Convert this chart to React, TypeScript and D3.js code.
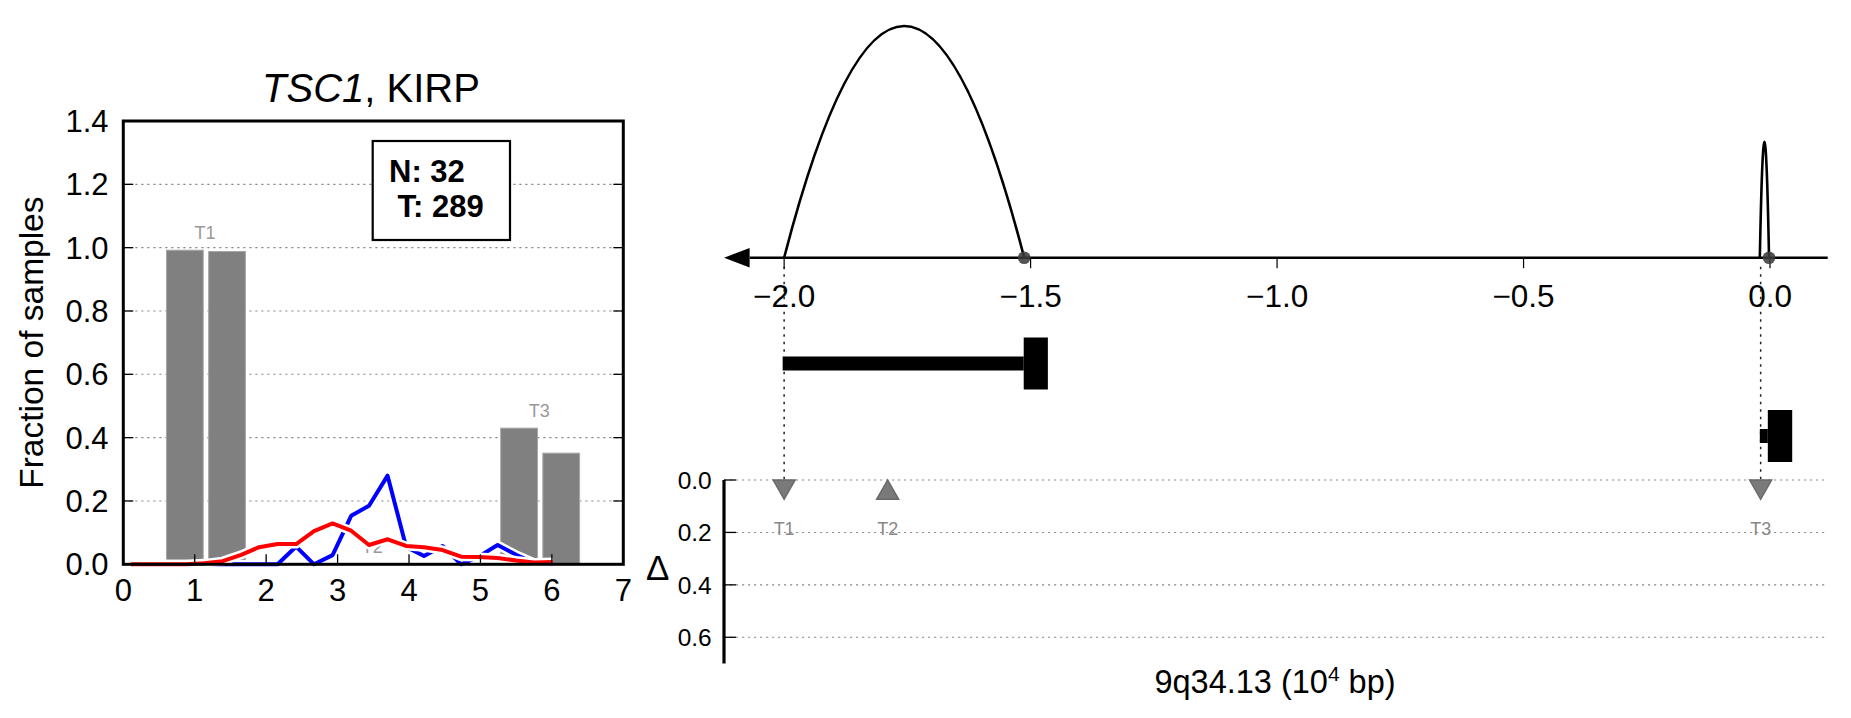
import React from 'react';
import * as d3 from 'd3';

// ---------------- Left panel data ----------------
const xTicksLeft = [0, 1, 2, 3, 4, 5, 6, 7];
const yTicksLeft = [0.0, 0.2, 0.4, 0.6, 0.8, 1.0, 1.2, 1.4];
const yGridLeft = [0.2, 0.4, 0.6, 0.8, 1.0, 1.2];
const groupLabels = ['T1', 'T2', 'T3'];
const groupCenters = [1.157, 3.5, 5.836];
const barsFirst = [0.992, 0.0, 0.430];
const barsSecond = [0.988, 0.0, 0.351];
const lineX = [0.11, 0.37, 0.62, 0.88, 1.13, 1.39, 1.65, 1.9, 2.16, 2.42, 2.67, 2.93, 3.19, 3.44, 3.7, 3.96, 4.21, 4.47, 4.73, 4.98, 5.24, 5.5, 5.75, 6.01];
const blueY = [0, 0, 0, 0, 0, 0, 0, 0, 0, 0.056, 0, 0.029, 0.153, 0.185, 0.28, 0.055, 0.026, 0.058, 0, 0.025, 0.061, 0.03, 0.005, 0];
const redY = [0, 0, 0, 0, 0.003, 0.01, 0.03, 0.054, 0.064, 0.064, 0.105, 0.129, 0.106, 0.061, 0.079, 0.058, 0.054, 0.045, 0.024, 0.023, 0.02, 0.012, 0.006, 0.007];
const countN = 32;
const countT = 289;

// ---------------- Right panel data ----------------
const trackTicks = [-2.0, -1.5, -1.0, -0.5, 0.0];
const arcStarts = [-2.0, -0.0207];
const arcEnds = [-1.513, -0.002];
const arcHeights = [1.0, 0.5];
const thinStarts = [-2.003, -0.0207];
const thinEnds = [-1.514, -0.0045];
const exonStarts = [-1.514, -0.0045];
const exonEnds = [-1.465, 0.045];
const dottedNames = ['T1', 'T3'];
const dottedPos = [-2.0, -0.019];
const markerNames = ['T1', 'T2', 'T3'];
const markerPos = [-2.0, -1.79, -0.019];
const markerDelta = [0.037, 0.037, 0.037];
const markerDown = [true, false, true];
const deltaTicks = [0.0, 0.2, 0.4, 0.6];

const FONT = '"Liberation Sans", Arial, Helvetica, sans-serif';

export default function App() {
  // left axes
  const xL = d3.scaleLinear().domain([0, 7]).range([123.3, 623.3]);
  const yL = d3.scaleLinear().domain([0, 1.4]).range([564.3, 121]);
  const barOff = 0.295;
  const barW = 0.515;
  const lineGen = d3
    .line<number>()
    .x((_, i) => xL(lineX[i]))
    .y((d) => yL(d));

  // right track
  const xT = d3.scaleLinear().domain([-2.122, 0.117]).range([724, 1827.7]);
  const axisY = 257.7;
  const arcH = d3.scaleLinear().domain([0, 1]).range([0, 231.7]);
  const rowY = d3.scaleLinear().domain([0, 1]).range([363.5, 436]);
  const yD = d3.scaleLinear().domain([0, 0.7]).range([480, 663.5]);

  const gridDash = '2.2,3.8';

  return (
    <svg
      width={1851}
      height={718}
      style={{ position: 'absolute', left: 0, top: 0, background: '#fff' }}
      fontFamily={FONT}
    >
      <rect x={0} y={0} width={1851} height={718} fill="#fff" />
      {/* ================= LEFT PANEL ================= */}
      {yGridLeft.map((v) => (
        <line key={'g' + v} x1={xL(0)} x2={xL(7)} y1={yL(v)} y2={yL(v)} stroke="#8c8c8c" strokeWidth={1.1} strokeDasharray={gridDash} />
      ))}
      {groupCenters.map((c, i) => (
        <g key={'b' + i}>
          <rect
            x={xL(c - barOff - barW / 2)}
            width={xL(barW) - xL(0)}
            y={yL(barsFirst[i])}
            height={yL(0) - yL(barsFirst[i])}
            fill="#808080"
            stroke="#a8a8a8"
            strokeWidth={1}
          />
          <rect
            x={xL(c + barOff - barW / 2)}
            width={xL(barW) - xL(0)}
            y={yL(barsSecond[i])}
            height={yL(0) - yL(barsSecond[i])}
            fill="#808080"
            stroke="#a8a8a8"
            strokeWidth={1}
          />
          <text
            x={xL(c) - 1}
            y={yL(Math.max(barsFirst[i], barsSecond[i]) + 0.055)}
            dy="0.36em"
            textAnchor="middle"
            fontSize={18}
            fill="#999"
          >
            {groupLabels[i]}
          </text>
        </g>
      ))}
      <path d={lineGen(blueY) || ''} fill="none" stroke="#fff" strokeWidth={9} strokeLinejoin="round" />
      <path d={lineGen(blueY) || ''} fill="none" stroke="#0000ff" strokeWidth={4} strokeLinejoin="round" />
      <path d={lineGen(redY) || ''} fill="none" stroke="#fff" strokeWidth={9} strokeLinejoin="round" />
      <path d={lineGen(redY) || ''} fill="none" stroke="#ff0000" strokeWidth={4} strokeLinejoin="round" />
      {yTicksLeft.map((v) => (
        <g key={'yt' + v}>
          <line x1={xL(0)} x2={xL(0) + 10} y1={yL(v)} y2={yL(v)} stroke="#000" strokeWidth={1.3} />
          <line x1={xL(7)} x2={xL(7) - 10} y1={yL(v)} y2={yL(v)} stroke="#000" strokeWidth={1.3} />
          <text x={108.5} y={yL(v)} dy="0.36em" textAnchor="end" fontSize={31} fill="#000">
            {v.toFixed(1)}
          </text>
        </g>
      ))}
      {xTicksLeft.map((v) => (
        <g key={'xt' + v}>
          <line x1={xL(v)} x2={xL(v)} y1={yL(0)} y2={yL(0) - 10} stroke="#000" strokeWidth={1.3} />
          <text x={xL(v)} y={601} textAnchor="middle" fontSize={31} fill="#000">
            {v}
          </text>
        </g>
      ))}
      <rect x={xL(0)} y={yL(1.4)} width={xL(7) - xL(0)} height={yL(0) - yL(1.4)} fill="none" stroke="#000" strokeWidth={3} />
      <rect x={372.7} y={141} width={137.3} height={99} fill="#fff" stroke="#000" strokeWidth={2.2} />
      <text x={389} y={182} fontSize={31} fontWeight="bold" fill="#000">
        {`N: ${countN}`}
      </text>
      <text x={389} y={217} fontSize={31} fontWeight="bold" fill="#000" style={{ whiteSpace: 'pre' }}>
        {` T: ${countT}`}
      </text>
      <text x={371} y={101.7} textAnchor="middle" fontSize={40} fill="#000">
        <tspan fontStyle="italic">TSC1</tspan>, KIRP
      </text>
      <text transform={`translate(43.3,${(yL(0) + yL(1.4)) / 2}) rotate(-90)`} textAnchor="middle" fontSize={33.5} fill="#000">
        Fraction of samples
      </text>

      {/* ================= RIGHT PANEL ================= */}
      {dottedPos.map((p, i) => (
        <line key={'dl' + dottedNames[i]} x1={xT(p)} x2={xT(p)} y1={axisY + 9} y2={yD(0)} stroke="#222" strokeWidth={1.5} strokeDasharray="2.5,5" />
      ))}
      <line x1={xT(-2.07)} x2={xT(0.117)} y1={axisY} y2={axisY} stroke="#000" strokeWidth={2.5} />
      <path d={`M${xT(-2.122)},${axisY} L${xT(-2.07)},${axisY - 9.7} L${xT(-2.07)},${axisY + 9.7} Z`} fill="#000" />
      {trackTicks.map((v) => (
        <g key={'tt' + v}>
          <line x1={xT(v)} x2={xT(v)} y1={axisY} y2={axisY + 10.5} stroke="#000" strokeWidth={1.2} />
          <text x={xT(v)} y={306.7} textAnchor="middle" fontSize={31.5} fill="#000">
            {d3.format('.1f')(v).replace('-', '\u2212')}
          </text>
        </g>
      ))}
      {arcStarts.map((s, i) => {
        const x0 = xT(s);
        const x1 = xT(arcEnds[i]);
        const ctrlY = axisY - 2 * arcH(arcHeights[i]);
        return (
          <path key={'arc' + i} d={`M${x0},${axisY} Q${(x0 + x1) / 2},${ctrlY} ${x1},${axisY}`} fill="none" stroke="#000" strokeWidth={2.6} />
        );
      })}
      {arcEnds.map((e, i) => (
        <circle key={'dot' + i} cx={xT(e)} cy={axisY} r={6.3} fill="#3c3c3c" fillOpacity={0.88} />
      ))}
      {thinStarts.map((s, i) => (
        <g key={'gene' + i}>
          <rect x={xT(s)} width={xT(thinEnds[i]) - xT(s)} y={rowY(i) - 7} height={14} fill="#000" />
          <rect x={xT(exonStarts[i])} width={xT(exonEnds[i]) - xT(exonStarts[i])} y={rowY(i) - 26} height={52} fill="#000" />
        </g>
      ))}
      {deltaTicks.map((v) => (
        <g key={'dt' + v}>
          <line x1={xT(-2.122)} x2={xT(0.117)} y1={yD(v)} y2={yD(v)} stroke="#8c8c8c" strokeWidth={1.1} strokeDasharray={gridDash} />
          <line x1={xT(-2.122)} x2={xT(-2.122) + 12} y1={yD(v)} y2={yD(v)} stroke="#000" strokeWidth={1.3} />
          <text x={711.7} y={yD(v)} dy="0.36em" textAnchor="end" fontSize={24.5} fill="#000">
            {v.toFixed(1)}
          </text>
        </g>
      ))}
      <line x1={xT(-2.122)} x2={xT(-2.122)} y1={yD(0)} y2={yD(0.7)} stroke="#000" strokeWidth={3.2} />
      <text x={657.8} y={580} textAnchor="middle" fontSize={35} fill="#000">
        Δ
      </text>
      {markerPos.map((p, i) => {
        const cx = xT(p);
        const cy = yD(markerDelta[i]);
        const hw = 11;
        const hh = 9.65;
        const d = markerDown[i]
          ? `M${cx - hw},${cy - hh} L${cx + hw},${cy - hh} L${cx},${cy + hh} Z`
          : `M${cx - hw},${cy + hh} L${cx + hw},${cy + hh} L${cx},${cy - hh} Z`;
        return (
          <g key={'m' + markerNames[i]}>
            <path d={d} fill="#7a7a7a" stroke="#6a6a6a" strokeWidth={1.5} strokeLinejoin="miter" />
            <text x={cx} y={yD(0.186)} dy="0.36em" textAnchor="middle" fontSize={18} fill="#888">
              {markerNames[i]}
            </text>
          </g>
        );
      })}
      <text x={1275} y={693} textAnchor="middle" fontSize={32.5} fill="#000">
        9q34.13 (10<tspan fontSize={21} dy={-12}>4</tspan>
        <tspan dy={12}> bp)</tspan>
      </text>
    </svg>
  );
}
